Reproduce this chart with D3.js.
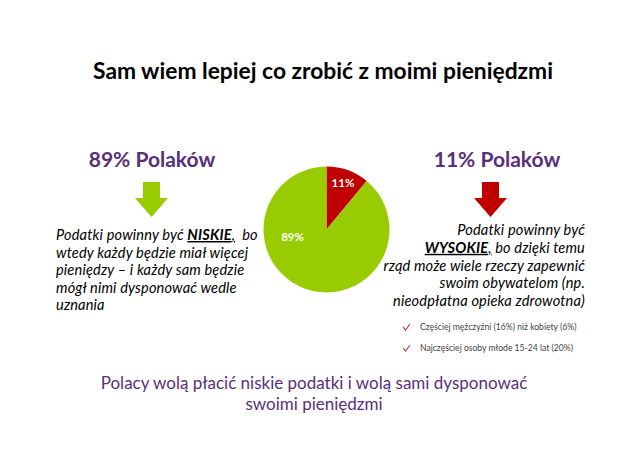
<!DOCTYPE html>
<html>
<head>
<meta charset="utf-8">
<script src="https://cdn.jsdelivr.net/npm/d3@7"></script>
<style>
  body { margin: 0; background: #fff; }
  svg { display: block; }
  text { font-family: Lato, "Open Sans", sans-serif; }
</style>
</head>
<body>
<svg id="chart" width="638" height="451"></svg>
<script>
// data
const groups = ["WYSOKIE", "NISKIE"];
const shares = [11, 89];
const sliceColors = ["#c00000", "#99cc00"];
const headline = "Sam wiem lepiej co zrobić z moimi pieniędzmi";
const groupTitles = ["89% Polaków", "11% Polaków"];
const leftLines = [
  [["Podatki powinny być ", ""], ["NISKIE", "bu"], [",", "u"], ["  bo", ""]],
  [["wtedy każdy będzie miał więcej", ""]],
  [["pieniędzy – i każdy sam będzie", ""]],
  [["mógł nimi dysponować wedle", ""]],
  [["uznania", ""]]
];
const rightLines = [
  [["Podatki powinny być", ""]],
  [["WYSOKIE", "bu"], [",", "u"], [" bo dzięki temu", ""]],
  [["rząd może wiele rzeczy zapewnić", ""]],
  [["swoim obywatelom (np.", ""]],
  [["nieodpłatna opieka zdrowotna)", ""]]
];
const notes = ["Częściej mężczyźni (16%) niż kobiety (6%)", "Najczęściej osoby młode 15-24 lat (20%)"];
const footer = ["Polacy wolą płacić niskie podatki i wolą sami dysponować", "swoimi pieniędzmi"];

const ctx = {w: 638, h: 451, purple: "#58307a", cx: 326.5, cy: 229.5, r: 63};
const svg = d3.select("#chart");

// headline
svg.append("text")
  .attr("x", 323).attr("y", 79)
  .attr("text-anchor", "middle")
  .attr("font-weight", "bold").attr("font-size", 22.8)
  .attr("fill", "#000")
  .text(headline);

// group titles
[152, 497].forEach((x, i) => {
  svg.append("text")
    .attr("x", x).attr("y", 167)
    .attr("text-anchor", "middle")
    .attr("font-weight", "bold").attr("font-size", 21)
    .attr("fill", ctx.purple)
    .text(groupTitles[i]);
});

// arrows
function arrow(cx, color) {
  const sw = 8.5, hw = 16.5, top = 182, neck = 198, tip = 217;
  svg.append("path")
    .attr("d", `M${cx-sw},${top}H${cx+sw}V${neck}H${cx+hw}L${cx},${tip}L${cx-hw},${neck}H${cx-sw}Z`)
    .attr("fill", color);
}
arrow(151.5, sliceColors[1]);
arrow(490.5, sliceColors[0]);

// pie
const pie = d3.pie().sort(null).value(d => d);
const arc = d3.arc().innerRadius(0).outerRadius(ctx.r);
const labelArc = d3.arc().innerRadius(ctx.r * 0.77).outerRadius(ctx.r * 0.77);
const pieG = svg.append("g").attr("transform", `translate(${ctx.cx},${ctx.cy})`);
const slices = pie(shares);
pieG.selectAll("path").data(slices).enter().append("path")
  .attr("d", arc)
  .attr("fill", (d, i) => sliceColors[i]);
pieG.selectAll("text.lbl").data(slices).enter().append("text")
  .classed("lbl", true)
  .attr("transform", (d, i) => {
    const c = i === 0 ? labelArc.centroid(d) : [-34, 8.5];
    return `translate(${c[0]},${c[1]})`;
  })
  .attr("text-anchor", "middle").attr("dominant-baseline", "middle")
  .attr("font-weight", "bold").attr("font-size", 11.5)
  .attr("fill", "#fff")
  .text(d => d.value + "%");

// paragraphs
function paragraph(lines, x, y0, lh, anchor) {
  lines.forEach((parts, i) => {
    const t = svg.append("text")
      .attr("x", x).attr("y", y0 + i * lh)
      .attr("text-anchor", anchor)
      .attr("font-style", "italic").attr("font-size", 14.6)
      .attr("letter-spacing", 0.15)
      .attr("fill", "#000")
      .style("white-space", "pre");
    parts.forEach(([s, f]) => {
      t.append("tspan")
        .attr("font-weight", f.includes("b") ? "bold" : null)
        .attr("text-decoration", f.includes("u") ? "underline" : null)
        .text(s);
    });
  });
}
paragraph(leftLines, 56, 240, 17.6, "start");
paragraph(rightLines, 585, 235, 17.8, "end");

// notes with check marks
notes.forEach((n, i) => {
  const y = 327 + i * 21;
  svg.append("path")
    .attr("d", `M${403},${y} l2.5,3 l4.5,-6`)
    .attr("fill", "none").attr("stroke", "#b03a3a").attr("stroke-width", 1.1);
  svg.append("text")
    .attr("x", 420).attr("y", y + 3)
    .attr("font-size", 8.6).attr("fill", "#444")
    .text(n);
});

// footer
footer.forEach((s, i) => {
  svg.append("text")
    .attr("x", 314).attr("y", 389 + i * 21)
    .attr("text-anchor", "middle")
    .attr("font-size", 17).attr("fill", ctx.purple)
    .text(s);
});
</script>
</body>
</html>
